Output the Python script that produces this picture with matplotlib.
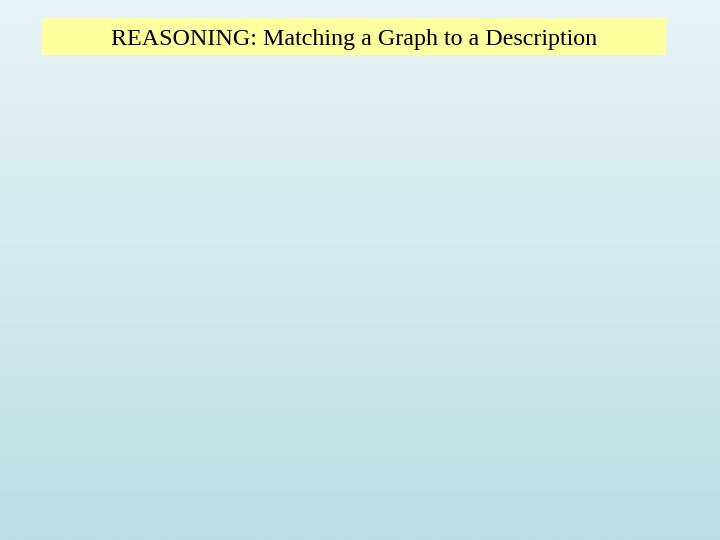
import numpy as np
import matplotlib
matplotlib.use('Agg')
from matplotlib import pyplot as plt
import matplotlib.patches as patches
import matplotlib.colors as mcolors

title = 'REASONING: Matching a Graph to a Description'
top_color = '#E8F3F7'
bottom_color = '#BBDFE3'

fig = plt.figure(figsize=(7.2, 5.4), dpi=100)
ax = fig.add_axes([0, 0, 1, 1])
ax.set_xlim(0, 720)
ax.set_ylim(540, 0)
ax.axis('off')

# background gradient, light at the top, teal at the bottom
cmap = mcolors.LinearSegmentedColormap.from_list('bg', [top_color, bottom_color])
grad = np.linspace(0, 1, 256).reshape(-1, 1)
ax.imshow(grad, cmap=cmap, aspect='auto', extent=(0, 720, 540, 0), zorder=0)

# title box
ax.add_patch(patches.Rectangle((42, 18), 624, 37, facecolor='#FFFFA0',
                               edgecolor='none', zorder=1))
ax.text(354, 39, title, ha='center', va='center', fontsize=17.3,
        family=['Liberation Serif', 'DejaVu Serif'], color='black', zorder=2)

fig.savefig('out.png', dpi=100)
